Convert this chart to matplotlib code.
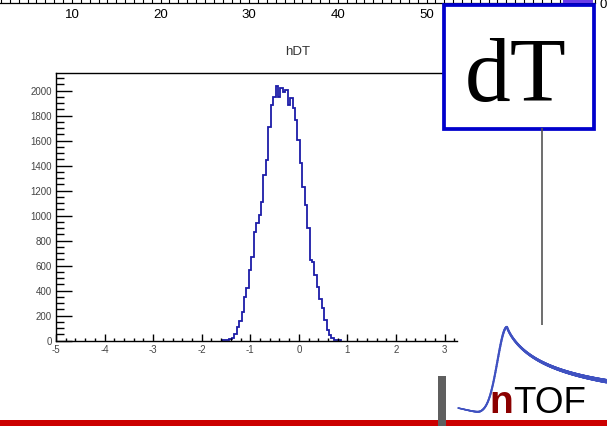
import numpy as np
import matplotlib
matplotlib.use("Agg")
import matplotlib.pyplot as plt
from matplotlib.patches import Rectangle
from matplotlib.collections import LineCollection
from matplotlib.ticker import MultipleLocator

plt.rcParams["font.family"] = ["Liberation Sans", "DejaVu Sans"]
plt.rcParams["axes.unicode_minus"] = False

W, H, DPI = 607, 426, 100

# hDT: bin contents, 0.05 wide bins starting at -1.58
bin_start = -1.58
bin_width = 0.05
counts = [5, 5, 8, 10, 20, 50, 110, 160, 230, 352,
          419, 566, 672, 872, 940, 1005, 1112, 1325, 1445, 1712,
          1886, 1952, 2040, 1950, 2025, 1988, 2005, 1886, 1939, 1859,
          1765, 1605, 1419, 1232, 1086, 899, 646, 632, 526, 432,
          331, 259, 166, 86, 46, 19, 6, 4, 3]
hist_title = "hDT"
hist_xrange = (-5, 3.25)

# axis fragment of the plot above
upper_ticks = [10, 20, 30, 40, 50]
upper_xrange = (1.66, 69.0)

fig = plt.figure(figsize=(W / DPI, H / DPI), dpi=DPI)


def px_axes(x0, y0, x1, y1, **kw):
    return fig.add_axes([x0 / W, 1 - y1 / H, (x1 - x0) / W, (y1 - y0) / H], **kw)


def pt(px):
    return px * 72.0 / DPI


# ---- histogram pad ----
ax = px_axes(56, 73, 456.7, 340.7)
edges = bin_start + bin_width * np.arange(len(counts) + 1)
ax.stairs(counts, edges, color="#1c1ca8", lw=1.3, baseline=0)
ax.set_xlim(*hist_xrange)
ax.set_ylim(0, 1.05 * max(counts))
for side in ("left", "top", "bottom"):
    ax.spines[side].set_linewidth(1.0)
    ax.spines[side].set_color("black")
ax.spines["right"].set_visible(False)
ax.xaxis.set_major_locator(MultipleLocator(1))
ax.xaxis.set_minor_locator(MultipleLocator(0.2))
ax.yaxis.set_major_locator(MultipleLocator(200))
ax.yaxis.set_minor_locator(MultipleLocator(50))
ax.tick_params(axis="x", which="major", direction="in", length=pt(7), width=1.0,
               labelsize=7, labelcolor="#444444", pad=3)
ax.tick_params(axis="x", which="minor", direction="in", length=pt(3.5), width=1.0)
ax.tick_params(axis="y", which="major", direction="in", length=pt(16), width=1.0,
               labelsize=7, labelcolor="#444444", pad=3)
ax.tick_params(axis="y", which="minor", direction="in", length=pt(8), width=1.0)
ax.patch.set_alpha(0)

fig.text(298 / W, 1 - 52 / H, hist_title, ha="center", va="center",
         fontsize=9.5, color="#333333")

# ---- axis fragment at the top edge ----
axu = px_axes(-2, -2, 595, 2.5)
axu.set_xlim(*upper_xrange)
axu.set_ylim(0, 1)
for side in ("left", "top", "right"):
    axu.spines[side].set_visible(False)
axu.spines["bottom"].set_linewidth(0.9)
axu.set_yticks([])
axu.set_xticks(upper_ticks)
axu.xaxis.set_minor_locator(MultipleLocator(1))
axu.tick_params(axis="x", which="both", direction="in", length=pt(4), width=0.8,
                labelsize=9.5, pad=5)
axu.patch.set_alpha(0)

# ---- overlay in pixel coordinates ----
ov = fig.add_axes([0, 0, 1, 1])
ov.set_xlim(0, W)
ov.set_ylim(H, 0)
ov.axis("off")

ov.text(603, 8, "0", ha="center", va="baseline", fontsize=9.5)
ov.add_patch(Rectangle((563, -1), 30, 4.0, color="#6a3de8", lw=0))

# connector from the label box
ov.plot([541.5, 541.5], [128, 325], color="#555555", lw=1.2, solid_capstyle="butt")

# label box
ov.add_patch(Rectangle((443.5, 5), 150, 123.5, facecolor="white",
                       edgecolor="#0000cc", lw=2.7))
ov.text(516, 101.5, "dT", ha="center", va="baseline", fontsize=66,
        family=["Liberation Serif", "DejaVu Serif"], color="black")

# footer band
ov.add_patch(Rectangle((0, 419.5), W, 7, color="#cc0000", lw=0))
ov.add_patch(Rectangle((438, 376), 8, 50, color="#5f5f5f", lw=0))

# logo pulse
lx = np.linspace(458, 607, 400)
rise = 86 * np.exp(-((lx - 507) ** 2) / (2 * 9.5 ** 2))
tail = 86 / (1 + (np.clip(lx - 507, 0, None) / 53.6) ** 0.86)
h = np.where(lx < 507, rise, tail) + 5 * np.clip((480 - lx) / 22, 0, None)
ly = 413 - h
pts = np.column_stack([lx, ly]).reshape(-1, 1, 2)
segs = np.concatenate([pts[:-1], pts[1:]], axis=1)
lws = np.interp(lx[:-1], [458, 510, 607], [1.1, 1.7, 3.2])
ov.add_collection(LineCollection(segs, linewidths=lws, colors="#3f51c1",
                                 capstyle="round"))
ov.text(489, 413, "n", ha="left", va="baseline", fontsize=28, weight="bold",
        color="#8b0000")
ov.text(513, 413, "TOF", ha="left", va="baseline", fontsize=26.5,
        color="black")

fig.savefig("out.png", dpi=DPI)
